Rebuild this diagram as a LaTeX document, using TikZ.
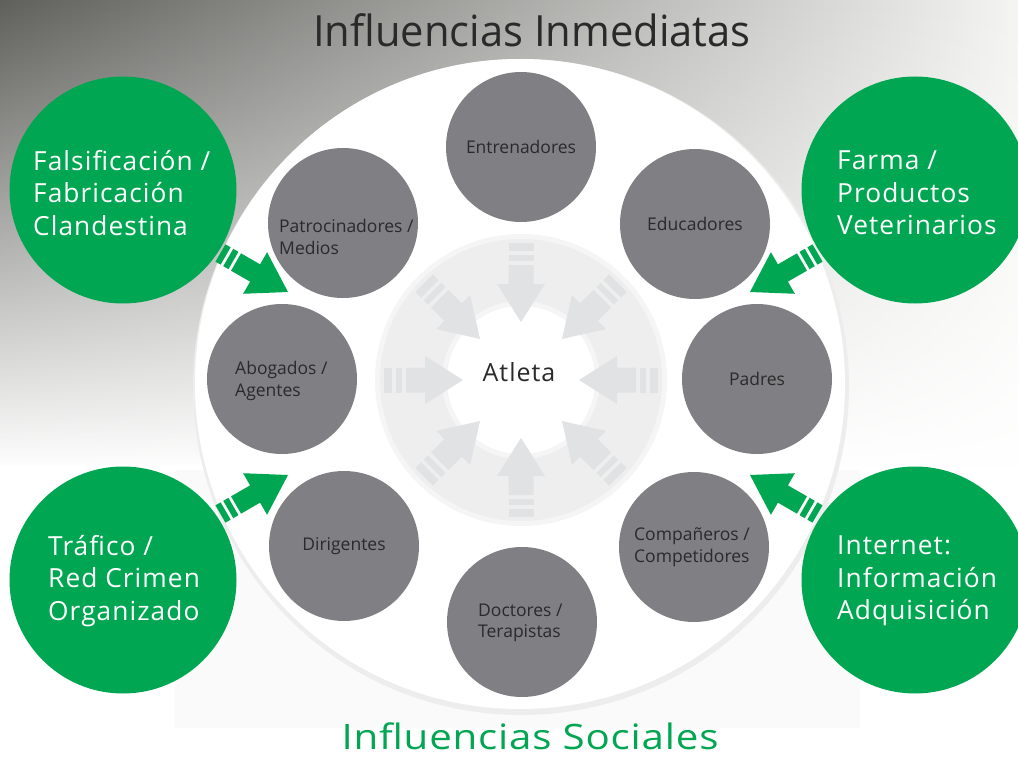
\documentclass[tikz,border=0pt]{standalone}
\usepackage{fontspec}
\setmainfont{Open Sans}
\newfontfamily\widefont{Open Sans}[LetterSpace=2]
\newfontfamily\greenfont{Open Sans}[LetterSpace=4]
\usetikzlibrary{fadings}
\definecolor{wgreen}{HTML}{00A651}
\definecolor{cgray}{HTML}{808084}
\definecolor{agray}{HTML}{E1E2E4}
\definecolor{ringgray}{HTML}{EEEEEE}
\definecolor{ringsoft}{HTML}{F5F5F5}
\definecolor{txtdark}{HTML}{2A2A2A}
\definecolor{bgA}{HTML}{5F605B}
\definecolor{bgB}{HTML}{BBBEB0}
\definecolor{bgC}{HTML}{F4F4F2}
\definecolor{bgD}{HTML}{FAFAFA}
\tikzfading[name=downfade, top color=transparent!100, middle color=transparent!45, bottom color=transparent!0]
\newcommand\grayarrowshape{%
  \fill (58,0) -- (96,24) -- (96,12.5) -- (115,12.5) -- (115,-12.5) -- (96,-12.5) -- (96,-24) -- cycle;
  \fill (119,-12.5) rectangle (125,12.5);
  \fill (129,-12.5) rectangle (137,12.5);
}
\newcommand\greenarrowshape{%
  \fill (0,0) -- (-38,-24) -- (-38,-10) -- (-60,-10) -- (-60,10) -- (-38,10) -- (-38,24) -- cycle;
  \fill (-63,-10) rectangle (-69,10);
  \fill (-72,-10) rectangle (-78,10);
}
\tikzset{
  graycirc/.style={circle, fill=cgray, minimum size=150, inner sep=0},
  greencirc/.style={circle, fill=wgreen, minimum size=227, inner sep=0},
  graytext/.style={text=txtdark, font=\fontsize{17.5}{21.5}\selectfont, align=left, inner sep=0},
  greentext/.style={text=white, font=\greenfont\fontsize{26.3}{32.5}\selectfont, align=left, inner sep=0},
}
\begin{document}
\begin{tikzpicture}[x=1pt,y=-1pt]
\useasboundingbox (0,0) rectangle (1018,757);
% background
\fill[white] (0,0) rectangle (1018,757);
\shade[left color=bgA, middle color=bgB, right color=bgC] (0,0) rectangle (1018,468);
\fill[white, path fading=downfade] (0,-1) rectangle (1018,469);
\fill[white] (0,466) rectangle (1018,757);
\fill[bgD] (175,470) rectangle (860,728);
% big white circle
\fill[black!7] (521,387) circle (328);
\fill[white] (520,384) circle (325);
% inner ring
\fill[ringsoft] (521,380) circle (146);
\fill[ringgray] (521,380) circle (141);
\fill[ringsoft] (521,380) circle (79);
\fill[white] (521,380) circle (74);
\foreach \a in {0,45,...,315} {
  \begin{scope}[shift={(521,380)}, rotate=\a, fill=agray]
    \grayarrowshape
  \end{scope}
}
% gray circles
\node[graycirc] (entr) at (521,147) {};
\node[graycirc] (educ) at (695,224) {};
\node[graycirc] (padr) at (757,379) {};
\node[graycirc] (comp) at (694,547) {};
\node[graycirc] (doct) at (522,622) {};
\node[graycirc] (diri) at (344,546) {};
\node[graycirc] (abog) at (282,379) {};
\node[graycirc] (patr) at (343,223) {};
% green circles
\node[greencirc] (fals) at (123,190) {};
\node[greencirc] (farm) at (915,190) {};
\node[greencirc] (traf) at (123,580) {};
\node[greencirc] (inte) at (915,580) {};
% green arrows
\begin{scope}[shift={(288,292)}, rotate=-30, fill=wgreen] \greenarrowshape \end{scope}
\begin{scope}[shift={(750,292)}, rotate=-150, fill=wgreen] \greenarrowshape \end{scope}
\begin{scope}[shift={(288,475)}, rotate=30, fill=wgreen] \greenarrowshape \end{scope}
\begin{scope}[shift={(750,475)}, rotate=150, fill=wgreen] \greenarrowshape \end{scope}
% texts
\node[text=txtdark, font=\fontsize{43}{50}\selectfont, anchor=base, inner sep=0] (title) at (532,47) {\scalebox{0.97}[1]{Influencias Inmediatas}};
\node[text=wgreen, font=\widefont\fontsize{35}{40}\selectfont, anchor=base, inner sep=0] (soc) at (530,749) {\scalebox{1.15}[1]{Influencias Sociales}};
\node[text=txtdark, font=\greenfont\fontsize{25}{30}\selectfont, anchor=base, inner sep=0] (atleta) at (519,381) {Atleta};
\node[graytext, anchor=center] (tentr) at (entr) {Entrenadores};
\node[graytext, anchor=center] (teduc) at (educ) {Educadores};
\node[graytext, anchor=center] (tpadr) at (padr) {Padres};
\node[graytext, anchor=center] (tdiri) at (diri) {Dirigentes};
\node[graytext, anchor=west] (tcomp) at (634,547) {Compañeros /\\Competidores};
\node[graytext, anchor=west] (tdoct) at (478,623) {Doctores /\\Terapistas};
\node[graytext, anchor=west] (tabog) at (235,381) {Abogados /\\Agentes};
\node[graytext, anchor=west] (tpatr) at (279,237) {Patrocinadores /\\Medios};
\node[greentext, anchor=west] (tfals) at (33,193) {Falsificación /\\Fabricación\\Clandestina};
\node[greentext, anchor=west] (tfarm) at (837,193) {Farma /\\Productos\\Veterinarios};
\node[greentext, anchor=west] (ttraf) at (48,581) {Tráfico /\\Red Crimen\\Organizado};
\node[greentext, anchor=west] (tinte) at (837,581) {Internet:\\Información\\Adquisición};
\end{tikzpicture}
\end{document}
